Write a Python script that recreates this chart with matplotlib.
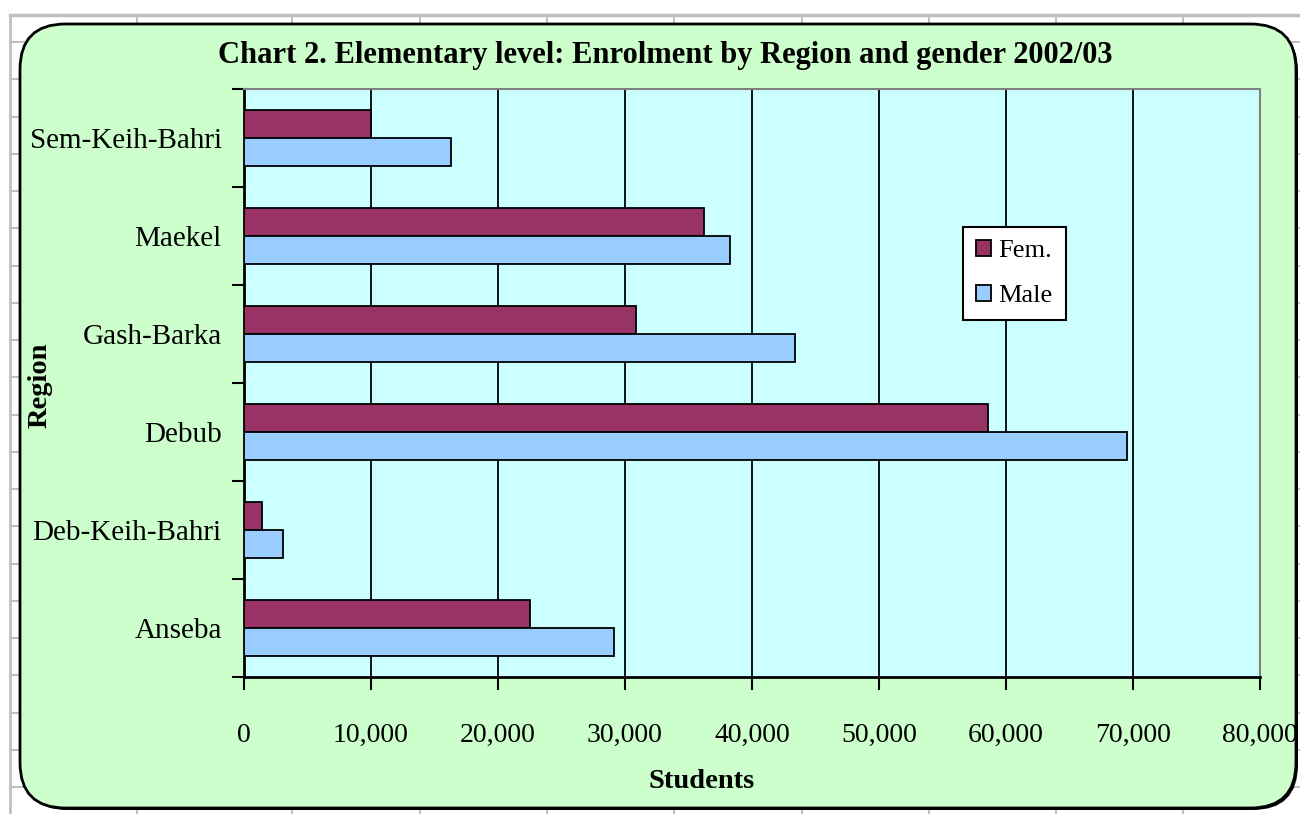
import matplotlib
matplotlib.use("Agg")
import matplotlib.pyplot as plt
import numpy as np
from matplotlib.patches import FancyBboxPatch
from matplotlib.lines import Line2D
from matplotlib.ticker import FuncFormatter, MultipleLocator, FixedLocator

regions = ["Anseba", "Deb-Keih-Bahri", "Debub", "Gash-Barka", "Maekel", "Sem-Keih-Bahri"]
female = [22500, 1400, 58600, 30900, 36200, 10000]
male = [29100, 3100, 69500, 43400, 38300, 16300]
series_names = ["Fem.", "Male"]
title = "Chart 2. Elementary level: Enrolment by Region and gender 2002/03"

W, H = 1300, 814
fig = plt.figure(figsize=(13, 8.14), dpi=100)
fig.patch.set_facecolor("white")
plt.rcParams['font.family'] = ['Liberation Serif', 'DejaVu Serif']

def fx(px):
    return px / W

def fy(py):
    return 1 - py / H

# spreadsheet grid in background
gc = "#c0c0c0"
fig.add_artist(Line2D([fx(10), fx(1300)], [fy(15), fy(15)], color=gc, lw=2.5, zorder=0))
fig.add_artist(Line2D([fx(10), fx(10)], [fy(15), fy(814)], color=gc, lw=2, zorder=0))
for xc in [137, 292, 420, 547, 674, 802, 929, 1056, 1183]:
    fig.add_artist(Line2D([fx(xc), fx(xc)], [fy(15), fy(814)], color=gc, lw=1.5, zorder=0))
for k in range(21):
    yr = 42 + 37.25 * k
    fig.add_artist(Line2D([fx(10), fx(1300)], [fy(yr), fy(yr)], color=gc, lw=1.5, zorder=0))

# chart area rounded box with shadow
shadow = FancyBboxPatch((fx(22), fy(810)), fx(1298 - 22), (810 - 26) / H,
                        boxstyle="round,pad=0,rounding_size=0.035", transform=fig.transFigure,
                        facecolor="#000000", edgecolor="none", zorder=1, mutation_aspect=W / H)
fig.add_artist(shadow)
box = FancyBboxPatch((fx(20), fy(808)), fx(1296 - 20), (808 - 24) / H,
                     boxstyle="round,pad=0,rounding_size=0.035", transform=fig.transFigure,
                     facecolor="#CCFFCC", edgecolor="black", lw=2, zorder=2, mutation_aspect=W / H)
fig.add_artist(box)

ax = fig.add_axes([fx(244), fy(677), fx(1260 - 244), (677 - 89) / H], zorder=3)
ax.set_facecolor("#CCFFFF")

y = np.arange(len(regions))
h = 0.29
ax.barh(y + h / 2, female, height=h, color="#993366", edgecolor="black", lw=1.3, zorder=3, label=series_names[0])
ax.barh(y - h / 2, male, height=h, color="#99CCFF", edgecolor="black", lw=1.3, zorder=3, label=series_names[1])

ax.set_xlim(0, 80000)
ax.set_ylim(-0.5, len(regions) - 0.5)
ax.xaxis.set_major_locator(MultipleLocator(10000))
ax.xaxis.set_major_formatter(FuncFormatter(lambda v, p: f"{int(v):,}"))
ax.grid(axis="x", color="black", lw=1.3, zorder=1)
ax.set_axisbelow(True)

ax.set_yticks(y)
ax.set_yticklabels(regions)
ax.yaxis.set_minor_locator(FixedLocator(np.arange(-0.5, len(regions), 1.0)))
ax.tick_params(axis="y", which="major", length=0, pad=16, labelsize=21)
ax.tick_params(axis="y", which="minor", length=9, width=1.5, direction="out", color="black")
ax.tick_params(axis="x", which="major", length=9, width=1.5, direction="out", pad=24, labelsize=20)

for s in ["top", "right"]:
    ax.spines[s].set_color("#808080")
    ax.spines[s].set_linewidth(1.5)
for s in ["left", "bottom"]:
    ax.spines[s].set_color("black")
    ax.spines[s].set_linewidth(2)

fig.text(fx(665), fy(56), title, ha="center", va="center", fontsize=22, fontweight="bold", zorder=5)
fig.text(fx(702), fy(781), "Students", ha="center", va="center", fontsize=20.5, fontweight="bold", zorder=5)
fig.text(fx(40), fy(385), "Region", ha="center", va="center", rotation=90, fontsize=20.5, fontweight="bold", zorder=5)

leg = ax.legend(loc="upper left", bbox_to_anchor=((963 - 244) / 1016, 1 - (227 - 89) / 588),
                fontsize=19, frameon=True, fancybox=False, edgecolor="black", facecolor="white",
                framealpha=1, handlelength=0.55, handleheight=0.55, handletextpad=0.3,
                borderpad=0.5, labelspacing=0.85, borderaxespad=0)
leg.get_frame().set_linewidth(1.5)

fig.savefig("out.png", dpi=100)
